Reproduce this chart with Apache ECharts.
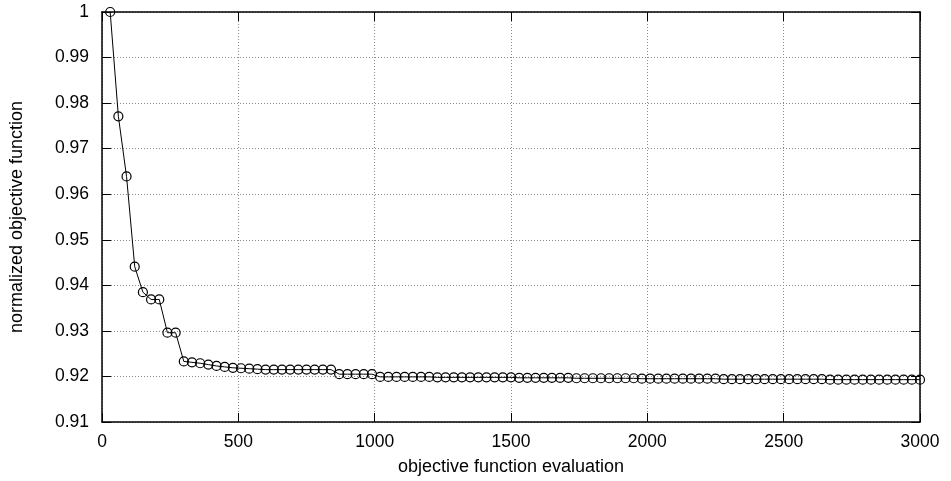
<!DOCTYPE html>
<html>
<head>
<meta charset="utf-8">
<script src="https://cdn.jsdelivr.net/npm/echarts@6/dist/echarts.min.js"></script>
<style>
  html, body { margin: 0; padding: 0; background: #ffffff; }
  #chart { width: 951px; height: 481px; }
</style>
</head>
<body>
<div id="chart"></div>
<script>
// Evaluation counts at which the objective was sampled
const evaluations = [
  30, 60, 90, 120, 150, 180, 210, 240, 270, 300,
  330, 360, 390, 420, 450, 480, 510, 540, 570, 600,
  630, 660, 690, 720, 750, 780, 810, 840, 870, 900,
  930, 960, 990, 1020, 1050, 1080, 1110, 1140, 1170, 1200,
  1230, 1260, 1290, 1320, 1350, 1380, 1410, 1440, 1470, 1500,
  1530, 1560, 1590, 1620, 1650, 1680, 1710, 1740, 1770, 1800,
  1830, 1860, 1890, 1920, 1950, 1980, 2010, 2040, 2070, 2100,
  2130, 2160, 2190, 2220, 2250, 2280, 2310, 2340, 2370, 2400,
  2430, 2460, 2490, 2520, 2550, 2580, 2610, 2640, 2670, 2700,
  2730, 2760, 2790, 2820, 2850, 2880, 2910, 2940, 2970, 3000
];

// Normalized objective function value at each evaluation count
const objective = [
  1.0000, 0.9771, 0.9639, 0.9441, 0.9385, 0.9369, 0.9369, 0.9296, 0.9296, 0.9233,
  0.9231, 0.9229, 0.9226, 0.9223, 0.9221, 0.9219, 0.9218, 0.9217, 0.9216, 0.9215,
  0.9215, 0.9215, 0.9215, 0.9215, 0.9215, 0.9215, 0.9215, 0.9215, 0.9205, 0.9205,
  0.9205, 0.9205, 0.9205, 0.9199, 0.9199, 0.9199, 0.9199, 0.9199, 0.9199, 0.9199,
  0.9198, 0.9198, 0.9198, 0.9198, 0.9198, 0.9198, 0.9198, 0.9198, 0.9198, 0.9198,
  0.9197, 0.9197, 0.9197, 0.9197, 0.9197, 0.9197, 0.9197, 0.9196, 0.9196, 0.9196,
  0.9196, 0.9196, 0.9196, 0.9196, 0.9196, 0.9195, 0.9195, 0.9195, 0.9195, 0.9195,
  0.9195, 0.9195, 0.9195, 0.9195, 0.9195, 0.9194, 0.9194, 0.9194, 0.9194, 0.9194,
  0.9194, 0.9194, 0.9194, 0.9194, 0.9194, 0.9194, 0.9194, 0.9194, 0.9193, 0.9193,
  0.9193, 0.9193, 0.9193, 0.9193, 0.9193, 0.9193, 0.9193, 0.9193, 0.9193, 0.9193
];

const xTitle = 'objective function evaluation';
const yTitle = 'normalized objective function';

const FONT = '"Liberation Sans", Arial, sans-serif';
const TICK_SIZE = 17.5;
const TITLE_SIZE = 18;

const frameLine = { show: true, onZero: false, lineStyle: { color: '#000', width: 1.5 } };
const innerTick = { show: true, inside: true, length: 9, lineStyle: { color: '#000', width: 1 } };
const dottedGrid = { show: true, lineStyle: { color: '#8a8a8a', width: 1, type: [1, 2] } };

const chart = echarts.init(document.getElementById('chart'), null, { renderer: 'canvas' });

chart.setOption({
  animation: false,
  backgroundColor: '#ffffff',
  grid: { left: 100, top: 12, width: 820, height: 410, containLabel: false },
  xAxis: [
    {
      type: 'value', position: 'bottom', min: 0, max: 3000, interval: 500,
      name: xTitle, nameLocation: 'middle', nameGap: 36,
      nameTextStyle: { fontFamily: FONT, fontSize: TITLE_SIZE, color: '#000' },
      axisLine: frameLine, axisTick: innerTick, splitLine: dottedGrid,
      axisLabel: {
        margin: 11, fontFamily: FONT, fontSize: TICK_SIZE, color: '#000',
        formatter: v => String(v)
      }
    },
    {
      type: 'value', position: 'top', min: 0, max: 3000, interval: 500,
      axisLine: frameLine, axisTick: innerTick, splitLine: { show: false },
      axisLabel: { show: false }
    }
  ],
  yAxis: [
    {
      type: 'value', position: 'left', min: 0.91, max: 1, interval: 0.01,
      name: yTitle, nameLocation: 'middle', nameGap: 76, nameRotate: 90,
      nameTextStyle: { fontFamily: FONT, fontSize: TITLE_SIZE, color: '#000' },
      axisLine: frameLine, axisTick: innerTick, splitLine: dottedGrid,
      axisLabel: {
        margin: 13, fontFamily: FONT, fontSize: TICK_SIZE, color: '#000',
        formatter: v => String(Math.round(v * 100) / 100)
      }
    },
    {
      type: 'value', position: 'right', min: 0.91, max: 1, interval: 0.01,
      axisLine: frameLine, axisTick: innerTick, splitLine: { show: false },
      axisLabel: { show: false }
    }
  ],
  series: [
    {
      type: 'line',
      xAxisIndex: 0, yAxisIndex: 0,
      data: evaluations.map((x, i) => [x, objective[i]]),
      clip: false,
      symbol: 'circle',
      symbolSize: 9,
      showAllSymbol: true,
      lineStyle: { color: '#000', width: 1 },
      itemStyle: { color: 'rgba(0,0,0,0)', borderColor: '#000', borderWidth: 1.2 },
      emphasis: { disabled: true }
    }
  ]
});
</script>
</body>
</html>
